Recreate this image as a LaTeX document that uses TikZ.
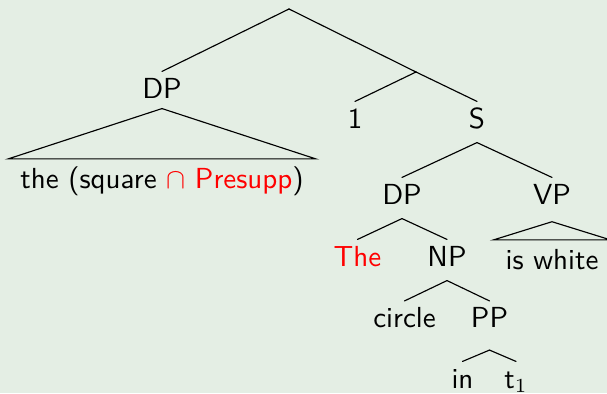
\documentclass[tikz,border=0pt]{standalone}
\usepackage{amsmath,amssymb}
\usepackage{tikz}
\usetikzlibrary{positioning}
\renewcommand{\familydefault}{\sfdefault}
\definecolor{slidebg}{HTML}{E4EEE4}
\definecolor{hilite}{HTML}{FF0000}
\tikzset{
    cat/.style={inner sep=0pt,anchor=base,text height=9.1pt,text depth=4.9pt},
    roof/.style={inner ysep=0pt,inner xsep=4pt,anchor=base,text height=10pt,text depth=2pt},
    branch/.style={draw,line cap=round},
}

\begin{document}
\begin{tikzpicture}[x=0.35pt,y=-0.35pt,font=\fontsize{10.15}{12}\selectfont]
    \fill[slidebg] (0,0) rectangle (607,393);
    \useasboundingbox (0,0) rectangle (607,393);
    \coordinate (root) at (289,9);
    \coordinate (mid) at (416,72);
    \node[cat,text depth=3.5pt] (dpA) at (162,98) {DP};
    \node[roof] (dpRoof) at (162,188) {the (square \textcolor{hilite}{$\cap$ Presupp})};
    \node[cat] (one) at (355,128) {1};
    \node[cat] (s) at (477,128) {S};
    \node[cat] (dpB) at (402,204) {DP};
    \node[cat,text depth=6pt] (vp) at (552,204) {VP};
    \node[roof] (vpRoof) at (552,269) {is white};
    \node[cat,text=hilite] (the) at (357.5,266) {The};
    \node[cat] (np) at (447,266) {NP};
    \node[cat] (circ) at (404.5,327.5) {circle};
    \node[cat,text depth=7.7pt] (pp) at (489.5,327.5) {PP};
    \node[cat] (in) at (462.5,388) {in};
    \node[cat] (trace) at (516,388) {t$_1$};
    \draw[branch] (root) -- (dpA.north);
    \draw[branch] (root) -- (mid);
    \draw[branch] (dpA.south) -- (dpRoof.north east) -- (dpRoof.north west) -- cycle;
    \draw[branch] (mid) -- (one.north);
    \draw[branch] (mid) -- (s.north);
    \draw[branch] (s.south) -- (dpB.north);
    \draw[branch] (s.south) -- (vp.north);
    \draw[branch] (vp.south) -- (vpRoof.north east) -- (vpRoof.north west) -- cycle;
    \draw[branch] (dpB.south) -- (the.north);
    \draw[branch] (dpB.south) -- (np.north);
    \draw[branch] (np.south) -- (circ.north);
    \draw[branch] (np.south) -- (pp.north);
    \draw[branch] (pp.south) -- (in.north);
    \draw[branch] (pp.south) -- (trace.north);
\end{tikzpicture}
\end{document}
